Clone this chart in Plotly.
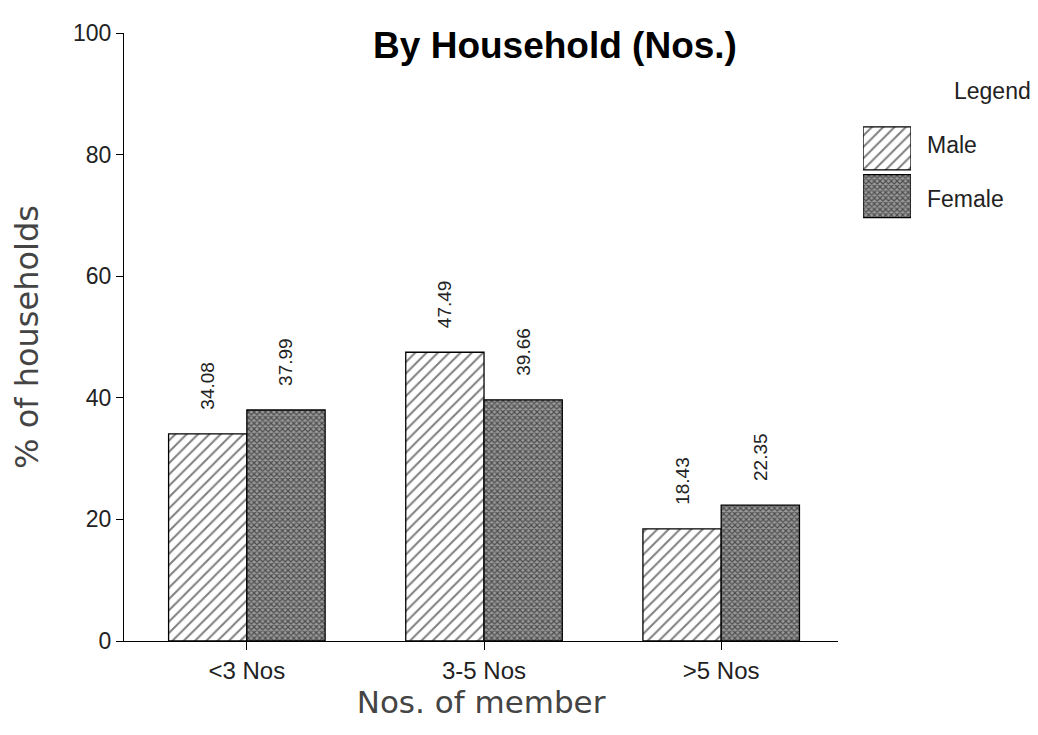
import plotly.graph_objects as go

categories = ["<3 Nos", "3-5 Nos", ">5 Nos"]
male = [34.08, 47.49, 18.43]
female = [37.99, 39.66, 22.35]
series_names = ["Male", "Female"]

font = "Liberation Sans, Arial, sans-serif"
wide = "DejaVu Sans, sans-serif"

male_pat = dict(shape="/", fgcolor="black", bgcolor="white", size=8, solidity=0.25)
female_pat = dict(shape="x", fgcolor="black", bgcolor="#9a9a9a", size=4, solidity=0.5)
pad = "\u00a0" * 4

fig = go.Figure()
fig.add_trace(go.Bar(
    x=categories, y=male, name="Male",
    marker=dict(color="white", line=dict(color="black", width=1.3), pattern=male_pat),
    texttemplate=pad + "%{y:.2f}",
    textposition="outside", textangle=-90, cliponaxis=False, constraintext="none",
    textfont=dict(size=19, color="#222", family=font),
))
fig.add_trace(go.Bar(
    x=categories, y=female, name="Female",
    marker=dict(color="#555", line=dict(color="black", width=1.3), pattern=female_pat),
    texttemplate=pad + "%{y:.2f}",
    textposition="outside", textangle=-90, cliponaxis=False, constraintext="none",
    textfont=dict(size=19, color="#222", family=font),
))

# legend swatches drawn in a small inset axis
for name, pat in zip(series_names, [male_pat, female_pat]):
    fig.add_trace(go.Bar(
        y=[name], x=[1], orientation="h", xaxis="x2", yaxis="y2",
        hoverinfo="skip", width=0.9,
        marker=dict(color="white", line=dict(color="black", width=1.3), pattern=pat),
    ))

W = 803  # plot-area width in px
fig.update_layout(
    width=1038, height=735,
    paper_bgcolor="white", plot_bgcolor="white",
    barmode="group", bargap=0.34, bargroupgap=0,
    margin=dict(l=115, r=120, t=22, b=102),
    font=dict(family=font, color="#222"),
    title=dict(text="<b>By Household (Nos.)</b>", x=0.527, xanchor="center",
               y=0.95, yanchor="middle",
               font=dict(size=37, color="black", family=font)),
    showlegend=False,
    xaxis=dict(
        domain=[0, 715 / W], range=[-0.518, 2.493],
        showline=True, linecolor="black", linewidth=1.3,
        ticks="outside", ticklen=8, tickcolor="black",
        tickfont=dict(size=24, color="#222"),
        title=dict(text="Nos. of member", font=dict(size=31, color="#444", family=wide),
                   standoff=8),
        showgrid=False, zeroline=False,
    ),
    yaxis=dict(
        range=[0, 100], dtick=20, showline=True, linecolor="black", linewidth=1.3,
        ticks="outside", ticklen=7, tickcolor="black",
        tickfont=dict(size=23, color="#222"),
        title=dict(text="% of households", font=dict(size=32, color="#444", family=wide),
                   standoff=30),
        showgrid=False, zeroline=False,
    ),
    xaxis2=dict(domain=[740 / W, 788 / W], range=[0, 1], visible=False, fixedrange=True),
    yaxis2=dict(domain=[0.6923, 0.8494], anchor="x2", visible=False,
                categoryorder="array", categoryarray=["Female", "Male"]),
    annotations=[
        dict(text="Legend", xref="paper", yref="paper", x=1.133, y=0.905,
             xanchor="right", yanchor="middle", showarrow=False,
             font=dict(size=23, color="#222")),
        dict(text="Male", xref="paper", yref="paper", x=0.999, y=0.815,
             xanchor="left", yanchor="middle", showarrow=False,
             font=dict(size=23, color="#222")),
        dict(text="Female", xref="paper", yref="paper", x=0.999, y=0.7267,
             xanchor="left", yanchor="middle", showarrow=False,
             font=dict(size=23, color="#222")),
    ],
)

fig.write_html("out.html")
